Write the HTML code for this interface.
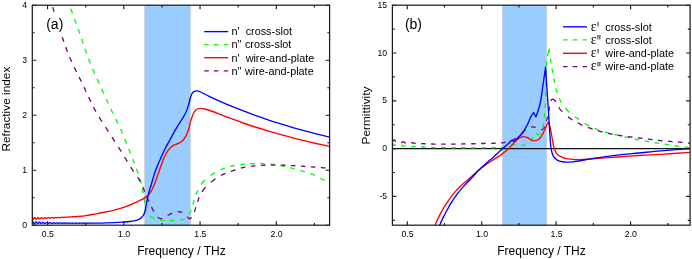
<!DOCTYPE html><html><head><meta charset="utf-8"><title>Refractive index and permittivity</title><style>html,body{margin:0;padding:0;background:#fff}svg{display:block;will-change:transform}text{font-family:"Liberation Sans",sans-serif;fill:#000}</style></head><body>
<svg width="692" height="259" viewBox="0 0 692 259">
<rect width="692" height="259" fill="#fff"/>
<defs><clipPath id="ca"><rect x="32.30" y="5.20" width="297.30" height="220.00"/></clipPath><clipPath id="cb"><rect x="392.40" y="5.20" width="297.70" height="220.00"/></clipPath></defs>
<rect x="144.7" y="5.20" width="45.7" height="220.00" fill="#99ccff" stroke="#c3cbd3" stroke-width="0.6"/>
<rect x="502.3" y="5.20" width="44.3" height="220.00" fill="#99ccff" stroke="#c3cbd3" stroke-width="0.6"/>
<line x1="392.40" x2="690.10" y1="148.7" y2="148.7" stroke="#111" stroke-width="1.2"/>
<path d="M68.00 0.00 L68.09 0.28 L68.24 0.76 L68.41 1.31 L68.54 1.74 L68.69 2.20 L68.83 2.67 L68.98 3.14 L69.12 3.60 L69.16 3.71 M70.81 8.86 L70.97 9.29 L71.18 9.87 L71.39 10.45 L71.60 11.03 L71.82 11.61 L72.03 12.18 L72.24 12.75 L72.44 13.32 L72.50 13.46 M74.48 18.83 L74.64 19.28 L74.85 19.86 L75.06 20.42 L75.27 20.98 L75.47 21.54 L75.68 22.11 L75.89 22.68 L76.10 23.25 L76.21 23.53 M78.18 28.95 L78.34 29.40 L78.56 30.00 L78.78 30.59 L78.99 31.17 L79.20 31.75 L79.40 32.33 L79.60 32.89 L79.80 33.44 M81.69 38.89 L81.84 39.33 L82.04 39.93 L82.24 40.52 L82.44 41.12 L82.63 41.71 L82.83 42.31 L83.03 42.90 L83.23 43.50 M85.00 48.84 L85.15 49.29 L85.35 49.88 L85.55 50.47 L85.75 51.06 L85.96 51.65 L86.16 52.24 L86.36 52.83 L86.57 53.42 M88.55 58.84 L88.72 59.27 L88.94 59.85 L89.17 60.43 L89.40 61.01 L89.63 61.59 L89.87 62.16 L90.10 62.74 L90.34 63.31 L90.40 63.46 M92.71 68.86 L92.89 69.28 L93.14 69.85 L93.40 70.41 L93.65 70.98 L93.90 71.54 L94.15 72.11 L94.41 72.67 L94.66 73.24 L94.79 73.52 M97.23 78.88 L97.43 79.30 L97.68 79.87 L97.94 80.44 L98.20 81.01 L98.46 81.57 L98.72 82.14 L98.97 82.71 L99.23 83.28 L99.30 83.43 M101.70 88.81 L101.90 89.26 L102.16 89.86 L102.41 90.41 L102.66 90.96 L102.90 91.52 L103.15 92.07 L103.40 92.63 L103.65 93.18 L103.77 93.46 M106.22 98.94 L106.43 99.39 L106.70 99.98 L106.96 100.58 L107.23 101.17 L107.50 101.76 L107.76 102.34 L108.02 102.92 L108.28 103.50 M110.72 108.82 L110.92 109.25 L111.18 109.81 L111.44 110.36 L111.71 110.94 L111.99 111.53 L112.26 112.11 L112.53 112.67 L112.80 113.23 L112.93 113.50 M115.64 118.94 L115.84 119.33 L116.11 119.86 L116.42 120.46 L116.72 121.06 L117.02 121.66 L117.32 122.25 L117.62 122.85 L117.89 123.40 L117.95 123.53 M120.50 128.94 L120.69 129.39 L120.96 129.98 L121.22 130.58 L121.48 131.17 L121.73 131.77 L121.98 132.34 L122.20 132.88 L122.43 133.41 M124.67 138.86 L124.84 139.28 L125.06 139.83 L125.28 140.38 L125.50 140.93 L125.73 141.49 L125.95 142.04 L126.17 142.60 L126.39 143.16 L126.50 143.44 M128.69 148.92 L128.86 149.35 L129.09 149.93 L129.33 150.53 L129.55 151.10 L129.77 151.64 L129.98 152.19 L130.20 152.74 L130.42 153.30 L130.48 153.44 M132.63 158.93 L132.79 159.35 L133.01 159.90 L133.22 160.46 L133.43 161.00 L133.64 161.54 L133.86 162.10 L134.08 162.68 L134.31 163.27 L134.42 163.55 M136.45 168.86 L136.60 169.26 L136.80 169.79 L137.01 170.34 L137.22 170.89 L137.41 171.40 L137.62 171.95 L137.83 172.50 L138.02 173.01 L138.21 173.50 M140.00 178.90 L140.10 179.28 L140.24 179.78 L140.37 180.28 L140.49 180.78 L140.61 181.28 L140.73 181.78 L140.84 182.28 L140.95 182.78 L141.05 183.28 L141.10 183.54 M142.17 188.87 L142.26 189.26 L142.37 189.78 L142.48 190.30 L142.59 190.82 L142.70 191.34 L142.82 191.87 L142.93 192.39 L143.04 192.92 L143.16 193.45 M144.27 198.85 L144.35 199.24 L144.45 199.76 L144.55 200.29 L144.64 200.83 L144.74 201.38 L144.83 201.94 L144.92 202.50 L145.01 203.06 L145.08 203.48 M146.00 208.86 L146.09 209.24 L146.20 209.70 L146.35 210.24 L146.41 210.49 M150.08 215.93 L150.51 216.34 L150.94 216.69 L151.39 217.03 L151.88 217.35 L152.42 217.66 L153.00 217.94 L153.50 218.16 L154.00 218.36 L154.51 218.55 L154.64 218.60 M160.05 220.00 L160.44 220.07 L160.96 220.15 L161.48 220.23 L162.00 220.30 L162.53 220.36 L163.07 220.41 L163.63 220.45 L164.20 220.49 L164.63 220.51 M169.99 220.52 L170.43 220.50 L171.02 220.49 L171.59 220.47 L172.15 220.45 L172.70 220.43 L173.24 220.41 L173.76 220.39 L174.28 220.37 L174.67 220.36 M180.06 220.01 L180.48 219.96 L181.01 219.90 L181.53 219.82 L182.01 219.75 L182.51 219.66 L183.07 219.54 L183.58 219.41 L184.03 219.28 L184.54 219.10 L184.68 219.04 M189.30 214.46 L189.47 214.11 L189.70 213.60 L189.93 213.06 L190.11 212.60 L190.29 212.11 L190.47 211.60 L190.66 211.06 L190.84 210.50 L191.03 209.92 M192.76 204.53 L192.89 204.14 L193.06 203.61 L193.23 203.06 L193.40 202.51 L193.56 201.95 L193.73 201.38 L193.90 200.81 L194.07 200.23 L194.15 199.93 M195.94 194.56 L196.12 194.12 L196.37 193.53 L196.63 192.95 L196.91 192.36 L197.19 191.77 L197.46 191.20 L197.71 190.70 L197.96 190.20 L198.09 189.94 M201.16 184.57 L201.45 184.14 L201.84 183.58 L202.23 183.02 L202.64 182.48 L203.06 181.96 L203.49 181.45 L203.92 180.96 L204.40 180.44 L204.98 179.86 M210.38 175.50 L210.79 175.21 L211.34 174.85 L211.90 174.49 L212.45 174.13 L213.00 173.78 L213.55 173.44 L214.10 173.10 L214.65 172.77 L214.93 172.61 M220.36 169.89 L220.81 169.70 L221.40 169.44 L221.99 169.20 L222.57 168.97 L223.14 168.74 L223.70 168.51 L224.26 168.30 L224.80 168.09 L224.94 168.04 M230.25 166.43 L230.67 166.34 L231.23 166.22 L231.79 166.10 L232.35 165.99 L232.91 165.88 L233.47 165.77 L234.04 165.66 L234.61 165.56 L234.90 165.50 M240.27 164.64 L240.70 164.58 L241.28 164.51 L241.87 164.44 L242.44 164.38 L242.93 164.33 L243.43 164.28 L243.94 164.23 L244.47 164.18 L244.87 164.14 M250.32 163.75 L250.70 163.73 L251.21 163.70 L251.73 163.67 L252.33 163.64 L252.91 163.61 L253.48 163.59 L254.03 163.56 L254.57 163.54 L254.96 163.53 M260.32 163.48 L260.75 163.49 L261.30 163.51 L261.77 163.53 L262.26 163.55 L262.79 163.58 L263.35 163.61 L263.93 163.63 L264.50 163.66 L264.87 163.68 M270.25 164.00 L270.68 164.03 L271.25 164.09 L271.83 164.14 L272.41 164.20 L272.99 164.27 L273.57 164.34 L274.15 164.42 L274.73 164.50 L274.88 164.53 M280.37 165.50 L280.76 165.58 L281.29 165.69 L281.82 165.80 L282.35 165.91 L282.87 166.02 L283.40 166.13 L283.93 166.25 L284.45 166.36 L284.97 166.48 M290.38 167.75 L290.76 167.85 L291.27 167.98 L291.78 168.11 L292.29 168.25 L292.81 168.38 L293.32 168.52 L293.83 168.65 L294.34 168.79 L294.85 168.93 M300.29 170.45 L300.70 170.57 L301.25 170.73 L301.80 170.89 L302.36 171.05 L302.92 171.22 L303.48 171.38 L304.03 171.55 L304.59 171.72 L304.87 171.80 M310.37 173.54 L310.74 173.67 L311.24 173.85 L311.77 174.04 L312.27 174.23 L312.82 174.43 L313.29 174.62 L313.71 174.80 L314.21 175.02 L314.70 175.27 L314.91 175.37 M320.38 178.22 L320.82 178.45 L321.36 178.74 L321.88 179.02 L322.40 179.30 L322.92 179.58 L323.44 179.86 L323.97 180.14 L324.48 180.42 L324.89 180.64" fill="none" stroke="#00ff00" stroke-width="1.35" stroke-linejoin="round" clip-path="url(#ca)"/>
<path d="M50.40 0.00 L50.50 0.28 L50.62 0.56 L50.78 1.02 L50.94 1.48 L51.03 1.77 M52.73 7.14 L52.85 7.55 L53.02 8.11 L53.19 8.67 L53.36 9.22 L53.53 9.78 L53.71 10.35 L53.89 10.94 L54.07 11.54 L54.11 11.69 M55.76 17.07 L55.89 17.51 L56.07 18.10 L56.25 18.68 L56.43 19.27 L56.62 19.87 L56.80 20.46 L56.98 21.05 L57.17 21.65 M58.88 27.08 L59.02 27.51 L59.20 28.08 L59.39 28.65 L59.59 29.25 L59.78 29.85 L59.98 30.43 L60.17 31.00 L60.36 31.57 L60.40 31.72 M62.23 37.10 L62.38 37.54 L62.58 38.14 L62.79 38.73 L62.99 39.32 L63.19 39.92 L63.40 40.51 L63.60 41.10 L63.81 41.69 M65.74 47.13 L65.90 47.57 L66.12 48.16 L66.34 48.74 L66.56 49.33 L66.78 49.92 L67.00 50.50 L67.22 51.09 L67.45 51.67 M69.63 57.11 L69.82 57.56 L70.06 58.15 L70.32 58.74 L70.57 59.33 L70.83 59.92 L71.09 60.51 L71.35 61.10 L71.62 61.69 M74.18 67.16 L74.40 67.60 L74.68 68.19 L74.97 68.78 L75.26 69.38 L75.55 69.97 L75.84 70.56 L76.14 71.15 L76.43 71.74 M79.08 77.06 L79.30 77.50 L79.60 78.09 L79.89 78.68 L80.19 79.27 L80.48 79.86 L80.77 80.45 L81.06 81.05 L81.35 81.64 M84.00 87.16 L84.20 87.58 L84.46 88.14 L84.73 88.70 L84.99 89.26 L85.26 89.83 L85.52 90.39 L85.78 90.96 L86.05 91.53 L86.11 91.67 M88.62 97.05 L88.82 97.47 L89.08 98.03 L89.34 98.59 L89.61 99.14 L89.87 99.70 L90.13 100.25 L90.39 100.80 L90.68 101.39 L90.82 101.69 M93.49 107.11 L93.72 107.55 L94.02 108.14 L94.32 108.72 L94.62 109.29 L94.92 109.86 L95.22 110.41 L95.52 110.95 L95.82 111.50 L95.90 111.65 M99.12 117.15 L99.39 117.57 L99.73 118.13 L100.08 118.69 L100.43 119.23 L100.77 119.78 L101.12 120.32 L101.47 120.86 L101.82 121.40 L101.99 121.67 M105.47 127.04 L105.75 127.47 L106.12 128.06 L106.49 128.65 L106.87 129.25 L107.24 129.83 L107.58 130.36 L107.92 130.90 L108.27 131.43 L108.44 131.70 M111.95 137.11 L112.22 137.52 L112.57 138.07 L112.93 138.62 L113.29 139.17 L113.65 139.72 L114.00 140.27 L114.36 140.82 L114.72 141.37 L114.90 141.65 M118.39 147.08 L118.66 147.50 L119.01 148.06 L119.37 148.63 L119.73 149.20 L120.09 149.79 L120.46 150.38 L120.82 150.96 L121.16 151.50 L121.24 151.64 M124.58 157.10 L124.84 157.53 L125.18 158.09 L125.52 158.65 L125.86 159.21 L126.20 159.77 L126.53 160.32 L126.87 160.87 L127.20 161.41 L127.36 161.68 M130.67 167.05 L130.92 167.46 L131.26 168.00 L131.63 168.57 L131.99 169.13 L132.33 169.66 L132.69 170.20 L133.06 170.76 L133.41 171.28 L133.69 171.68 M137.64 177.08 L137.91 177.48 L138.27 178.03 L138.62 178.60 L138.94 179.14 L139.22 179.63 L139.48 180.11 L139.80 180.71 L140.11 181.31 L140.33 181.75 M142.73 187.07 L142.89 187.45 L143.11 187.96 L143.34 188.47 L143.58 189.00 L143.81 189.53 L144.05 190.08 L144.29 190.63 L144.53 191.20 L144.71 191.63 M146.98 197.09 L147.15 197.50 L147.38 198.04 L147.61 198.57 L147.83 199.08 L148.05 199.58 L148.30 200.15 L148.56 200.73 L148.82 201.31 L149.01 201.73 M151.52 207.04 L151.70 207.40 L151.94 207.88 L152.18 208.36 L152.42 208.84 L152.66 209.32 L152.90 209.81 L153.14 210.29 L153.38 210.76 L153.62 211.23 L153.85 211.70 M157.64 217.09 L157.98 217.38 L158.44 217.72 L158.91 218.01 L159.38 218.25 L159.86 218.43 L160.33 218.57 L160.80 218.64 L161.27 218.67 L161.76 218.64 L162.27 218.56 M167.65 215.54 L168.02 215.31 L168.52 215.01 L169.03 214.73 L169.56 214.45 L170.10 214.16 L170.66 213.86 L171.23 213.56 L171.81 213.26 L172.25 213.04 M177.62 211.66 L177.97 211.67 L178.44 211.68 L178.92 211.72 L179.38 211.76 L179.85 211.82 L180.30 211.89 L180.85 211.99 L181.42 212.11 L181.95 212.24 L182.21 212.31 M187.44 216.62 L187.74 217.05 L188.14 217.61 L188.54 218.10 L188.94 218.48 L189.36 218.70 L189.80 218.70 L190.26 218.49 L190.75 218.10 L191.26 217.58 L191.51 217.26 M194.39 211.90 L194.52 211.51 L194.69 210.97 L194.86 210.41 L195.03 209.84 L195.20 209.26 L195.36 208.69 L195.50 208.21 L195.64 207.71 L195.78 207.21 M197.56 201.91 L197.70 201.47 L197.90 200.88 L198.07 200.37 L198.24 199.87 L198.41 199.37 L198.59 198.86 L198.77 198.35 L198.96 197.85 L199.15 197.34 L199.20 197.21 M201.87 191.90 L202.12 191.52 L202.47 191.02 L202.82 190.53 L203.18 190.04 L203.57 189.54 L204.05 188.95 L204.54 188.36 L205.04 187.79 L205.56 187.22 M210.82 182.30 L211.22 181.97 L211.78 181.53 L212.34 181.09 L212.91 180.65 L213.49 180.22 L214.08 179.79 L214.68 179.37 L215.23 178.98 L215.48 178.81 M220.85 175.48 L221.29 175.25 L221.87 174.94 L222.45 174.65 L223.03 174.37 L223.61 174.11 L224.19 173.85 L224.77 173.61 L225.35 173.37 L225.50 173.31 M230.86 171.40 L231.29 171.25 L231.88 171.05 L232.45 170.85 L233.04 170.65 L233.62 170.45 L234.20 170.25 L234.78 170.05 L235.36 169.85 L235.50 169.80 M240.87 168.13 L241.31 168.01 L241.89 167.86 L242.47 167.71 L243.04 167.57 L243.62 167.43 L244.20 167.30 L244.77 167.18 L245.34 167.07 L245.48 167.04 M250.93 166.25 L251.36 166.20 L251.93 166.14 L252.51 166.09 L253.10 166.03 L253.65 165.98 L254.15 165.94 L254.66 165.89 L255.18 165.85 L255.44 165.82 M260.91 165.44 L261.35 165.41 L261.94 165.38 L262.53 165.35 L263.13 165.32 L263.72 165.29 L264.32 165.27 L264.91 165.24 L265.51 165.22 M270.86 165.08 L271.28 165.07 L271.82 165.06 L272.37 165.06 L272.91 165.05 L273.45 165.05 L273.98 165.05 L274.52 165.05 L275.05 165.05 L275.45 165.05 M280.88 165.14 L281.30 165.15 L281.81 165.17 L282.34 165.18 L282.87 165.20 L283.41 165.21 L283.97 165.23 L284.54 165.25 L285.13 165.27 L285.43 165.28 M290.87 165.53 L291.29 165.55 L291.85 165.58 L292.41 165.61 L292.96 165.63 L293.51 165.66 L294.06 165.69 L294.60 165.72 L295.14 165.75 L295.40 165.76 M300.79 166.06 L301.24 166.09 L301.78 166.12 L302.30 166.16 L302.80 166.19 L303.30 166.22 L303.87 166.26 L304.42 166.30 L304.96 166.34 L305.49 166.38 M310.92 166.80 L311.34 166.83 L311.92 166.88 L312.46 166.92 L312.98 166.96 L313.51 167.00 L314.05 167.05 L314.59 167.09 L315.14 167.13 L315.41 167.15 M320.90 167.59 L321.32 167.63 L321.85 167.67 L322.40 167.71 L322.97 167.76 L323.50 167.80 L323.99 167.84 L324.53 167.88 L325.08 167.93 L325.47 167.96" fill="none" stroke="#800080" stroke-width="1.35" stroke-linejoin="round" clip-path="url(#ca)"/>
<path d="M32.30 219.05 L32.65 219.48 L33.00 219.49 L33.35 219.11 L33.70 218.48 L34.05 217.87 L34.40 217.49 L34.75 217.48 L35.10 217.82 L35.45 218.36 L35.80 218.88 L36.15 219.18 L36.50 219.16 L36.85 218.83 L37.20 218.35 L37.55 217.88 L37.90 217.62 L38.25 217.63 L38.60 217.91 L38.95 218.32 L39.30 218.70 L39.65 218.91 L40.00 218.87 L40.35 218.60 L40.70 218.22 L41.05 217.87 L41.40 217.68 L41.75 217.71 L42.10 217.93 L42.45 218.24 L42.80 218.53 L43.15 218.67 L43.50 218.62 L43.85 218.40 L44.20 218.10 L44.55 217.84 L44.90 217.70 L45.25 217.73 L45.60 217.90 L45.95 218.14 L46.30 218.35 L46.65 218.44 L47.00 218.39 L47.35 218.21 L47.70 217.97 L48.05 217.77 L48.40 217.67 L48.75 217.71 L49.10 217.84 L49.45 218.02 L49.80 218.17 L50.15 218.23 L50.50 218.17 L50.85 218.02 L51.20 217.84 L51.55 217.69 L51.90 217.62 L52.25 217.64 L52.60 217.75 L52.95 217.88 L53.30 217.99 L53.65 218.02 L54.00 217.96 L54.35 217.84 L54.70 217.70 L55.05 217.58 L55.40 217.53 L55.75 217.55 L56.10 217.63 L56.45 217.73 L56.80 217.80 L57.15 217.81 L57.50 217.76 L57.85 217.66 L58.20 217.54 L58.55 217.45 L58.90 217.41 L59.25 217.43 L59.60 217.48 L59.95 217.55 L60.30 217.60 L60.65 217.60 L61.00 217.55 L61.35 217.47 L61.70 217.37 L62.05 217.30 L62.40 217.27 L62.75 217.28 L63.10 217.32 L63.45 217.37 L63.80 217.39 L64.15 217.39 L64.50 217.34 L64.85 217.27 L65.20 217.19 L65.55 217.13 L65.90 217.11 L66.25 217.11 L66.60 217.14 L66.95 217.17 L67.30 217.18 L67.65 217.17 L68.00 217.12 L68.35 217.06 L68.70 217.00 L69.05 216.95 L69.40 216.92 L69.75 216.92 L70.10 216.94 L70.45 216.95 L70.80 216.96 L71.15 216.94 L71.50 216.90 L71.85 216.84 L72.20 216.79 L72.55 216.74 L72.90 216.72 L73.25 216.72 L73.60 216.72 L73.95 216.73 L74.30 216.72 L74.65 216.70 L75.50 216.70 C77.25 216.52 82.63 216.07 86.00 215.60 C89.37 215.13 92.48 214.50 95.70 213.90 C98.92 213.30 102.08 212.68 105.30 212.00 C108.52 211.32 111.55 210.70 115.00 209.80 C118.45 208.90 122.80 207.70 126.00 206.60 C129.20 205.50 131.28 204.53 134.20 203.20 C137.12 201.87 141.18 199.92 143.50 198.60 C145.82 197.28 146.82 196.53 148.10 195.30 C149.38 194.07 150.30 192.67 151.20 191.20 C152.10 189.73 152.78 188.12 153.50 186.50 C154.22 184.88 154.87 183.15 155.50 181.50 C156.13 179.85 156.62 178.52 157.30 176.60 C157.98 174.68 158.78 172.37 159.60 170.00 C160.42 167.63 161.33 164.68 162.20 162.40 C163.07 160.12 163.78 158.33 164.80 156.30 C165.82 154.27 167.00 151.93 168.30 150.20 C169.60 148.47 171.02 147.00 172.60 145.90 C174.18 144.80 176.20 144.42 177.80 143.60 C179.40 142.78 180.88 142.22 182.20 141.00 C183.52 139.78 184.68 138.10 185.70 136.30 C186.72 134.50 187.53 132.52 188.30 130.20 C189.07 127.88 189.58 124.87 190.30 122.40 C191.02 119.93 191.83 117.28 192.60 115.40 C193.37 113.52 194.12 112.17 194.90 111.10 C195.68 110.03 196.38 109.47 197.30 109.00 C198.22 108.53 199.15 108.30 200.40 108.30 C201.65 108.30 202.77 108.47 204.80 109.00 C206.83 109.53 209.73 110.47 212.60 111.50 C215.47 112.53 218.77 113.95 222.00 115.20 C225.23 116.44 228.33 117.65 232.00 118.99 C235.67 120.34 240.00 121.89 244.00 123.26 C248.00 124.64 252.00 125.96 256.00 127.25 C260.00 128.53 264.00 129.76 268.00 130.96 C272.00 132.16 276.00 133.31 280.00 134.42 C284.00 135.54 288.00 136.61 292.00 137.65 C296.00 138.70 300.00 139.70 304.00 140.67 C308.00 141.64 311.73 142.51 316.00 143.48 C320.27 144.44 327.33 145.94 329.60 146.43" fill="none" stroke="#ff0000" stroke-width="1.35" stroke-linejoin="round" clip-path="url(#ca)"/>
<path d="M32.30 221.67 L32.65 221.49 L33.00 221.79 L33.35 222.42 L33.70 223.15 L34.05 223.69 L34.40 223.85 L34.75 223.59 L35.10 223.03 L35.45 222.41 L35.80 221.96 L36.15 221.85 L36.50 222.11 L36.85 222.63 L37.20 223.21 L37.55 223.61 L37.90 223.71 L38.25 223.48 L38.60 223.02 L38.95 222.53 L39.30 222.20 L39.65 222.14 L40.00 222.37 L40.35 222.79 L40.70 223.24 L41.05 223.54 L41.40 223.60 L41.75 223.40 L42.10 223.03 L42.45 222.64 L42.80 222.39 L43.15 222.36 L43.50 222.56 L43.85 222.91 L44.20 223.26 L44.55 223.49 L44.90 223.51 L45.25 223.33 L45.60 223.03 L45.95 222.73 L46.30 222.55 L46.65 222.54 L47.00 222.72 L47.35 222.99 L47.70 223.27 L48.05 223.44 L48.40 223.44 L48.75 223.29 L49.10 223.05 L49.45 222.81 L49.80 222.68 L50.15 222.69 L50.50 222.83 L50.85 223.06 L51.20 223.27 L51.55 223.39 L51.90 223.38 L52.25 223.26 L52.60 223.06 L52.95 222.88 L53.30 222.78 L53.65 222.80 L54.00 222.92 L54.35 223.10 L54.70 223.27 L55.05 223.36 L55.40 223.34 L55.75 223.23 L56.10 223.08 L56.45 222.94 L56.80 222.86 L57.15 222.89 L57.50 222.99 L57.85 223.13 L58.20 223.26 L58.55 223.33 L58.90 223.31 L59.25 223.22 L59.60 223.09 L59.95 222.98 L60.30 222.93 L60.65 222.96 L61.00 223.04 L61.35 223.16 L61.70 223.26 L62.05 223.30 L62.40 223.28 L62.75 223.20 L63.10 223.11 L63.45 223.02 L63.80 222.99 L64.15 223.01 L64.50 223.08 L64.85 223.17 L65.20 223.25 L65.55 223.28 L65.90 223.26 L66.25 223.20 L66.60 223.12 L66.95 223.05 L67.30 223.03 L67.65 223.05 L68.00 223.11 L68.35 223.19 L68.70 223.24 L69.05 223.26 L69.40 223.24 L69.75 223.19 L70.10 223.13 L70.45 223.08 L70.80 223.07 L71.15 223.09 L71.50 223.14 L71.85 223.19 L72.20 223.24 L72.55 223.25 L72.90 223.23 L73.25 223.19 L73.60 223.14 L73.95 223.10 L74.30 223.09 L74.65 223.11 L75.00 223.15 L75.35 223.20 L75.70 223.23 L76.05 223.24 L76.40 223.22 L76.75 223.19 L77.10 223.15 L77.45 223.12 L77.80 223.12 L78.15 223.13 L78.50 223.17 L78.85 223.20 L79.20 223.23 L79.55 223.23 L79.90 223.22 L80.25 223.19 L80.60 223.16 L80.95 223.14 L81.30 223.13 L81.65 223.15 L82.00 223.18 L82.35 223.20 L82.70 223.22 L83.05 223.22 L83.40 223.21 L83.75 223.19 L84.10 223.16 L84.45 223.15 L84.80 223.15 L85.15 223.16 L85.50 223.18 L85.85 223.20 L86.20 223.22 L86.55 223.22 L86.90 223.21 L87.25 223.19 L87.60 223.17 L87.95 223.16 L88.30 223.16 L88.65 223.17 L89.00 223.19 L89.35 223.20 L89.70 223.21 L90.90 223.20 C93.48 223.15 101.25 223.07 106.40 222.90 C111.55 222.73 117.95 222.43 121.80 222.20 C125.65 221.97 126.92 221.85 129.50 221.50 C132.08 221.15 135.37 220.70 137.30 220.10 C139.23 219.50 140.07 218.73 141.10 217.90 C142.13 217.07 142.85 216.20 143.50 215.10 C144.15 214.00 144.55 212.97 145.00 211.30 C145.45 209.63 145.82 207.17 146.20 205.10 C146.58 203.03 146.93 200.70 147.30 198.90 C147.67 197.10 148.02 195.85 148.40 194.30 C148.78 192.75 149.13 191.15 149.60 189.60 C150.07 188.05 150.58 187.02 151.20 185.00 C151.82 182.98 152.55 180.00 153.30 177.50 C154.05 175.00 154.52 173.10 155.70 170.00 C156.88 166.90 158.88 162.35 160.40 158.90 C161.92 155.45 163.20 152.48 164.80 149.30 C166.40 146.12 168.27 142.98 170.00 139.80 C171.73 136.62 173.82 132.67 175.20 130.20 C176.58 127.73 177.25 126.70 178.30 125.00 C179.35 123.30 180.27 122.03 181.50 120.00 C182.73 117.97 184.57 115.15 185.70 112.80 C186.83 110.45 187.53 108.37 188.30 105.90 C189.07 103.43 189.67 100.10 190.30 98.00 C190.93 95.90 191.43 94.42 192.10 93.30 C192.77 92.18 193.48 91.70 194.30 91.30 C195.12 90.90 195.98 90.78 197.00 90.90 C198.02 91.02 198.38 91.10 200.40 92.00 C202.42 92.90 205.83 94.75 209.10 96.30 C212.37 97.85 216.18 99.60 220.00 101.28 C223.82 102.97 228.00 104.75 232.00 106.40 C236.00 108.05 240.00 109.64 244.00 111.18 C248.00 112.72 252.00 114.20 256.00 115.64 C260.00 117.07 264.00 118.45 268.00 119.79 C272.00 121.13 276.00 122.42 280.00 123.67 C284.00 124.92 288.00 126.12 292.00 127.29 C296.00 128.45 300.00 129.57 304.00 130.66 C308.00 131.75 311.73 132.73 316.00 133.81 C320.27 134.89 327.33 136.57 329.60 137.12" fill="none" stroke="#0000ff" stroke-width="1.35" stroke-linejoin="round" clip-path="url(#ca)"/>
<path d="M392.40 143.07 L392.70 143.58 L393.15 144.46 L393.60 145.24 L394.00 145.61 L394.40 145.66 L394.90 145.28 L395.30 144.78 L395.70 144.28 L395.80 144.19 M401.20 144.85 L401.50 145.00 L401.90 145.33 L402.40 145.83 L402.80 146.17 L403.20 146.39 L403.65 146.39 L404.10 146.21 L404.50 145.95 L404.90 145.69 L405.40 145.50 L405.80 145.51 M411.15 146.26 L411.50 146.44 L411.90 146.63 L412.30 146.76 L412.80 146.79 L413.24 146.51 L413.77 146.53 L414.31 146.56 L414.86 146.59 L415.39 146.62 L415.82 146.64 M421.21 146.91 L421.64 146.94 L422.21 146.96 L422.77 146.99 L423.32 147.02 L423.86 147.04 L424.40 147.07 L425.00 147.10 L425.53 147.13 L425.79 147.14 M431.17 147.50 L431.60 147.51 L432.17 147.53 L432.77 147.54 L433.36 147.56 L433.93 147.56 L434.49 147.57 L435.05 147.58 L435.61 147.59 L435.74 147.59 M441.17 147.65 L441.61 147.65 L442.19 147.66 L442.77 147.66 L443.35 147.67 L443.95 147.67 L444.55 147.68 L445.15 147.68 L445.75 147.69 M451.26 147.73 L451.70 147.73 L452.28 147.73 L452.86 147.74 L453.43 147.74 L454.00 147.74 L454.58 147.75 L455.15 147.75 L455.73 147.75 M461.15 147.78 L461.59 147.78 L462.17 147.78 L462.76 147.79 L463.34 147.79 L463.92 147.79 L464.51 147.79 L465.09 147.79 L465.67 147.80 L465.82 147.80 M471.24 147.81 L471.67 147.81 L472.25 147.81 L472.84 147.81 L473.44 147.81 L474.04 147.82 L474.64 147.82 L475.23 147.82 L475.81 147.82 M481.27 147.81 L481.71 147.80 L482.30 147.80 L482.88 147.80 L483.44 147.80 L484.01 147.79 L484.57 147.79 L485.13 147.79 L485.68 147.78 L485.82 147.78 M491.27 147.75 L491.70 147.74 L492.28 147.73 L492.81 147.73 L493.35 147.72 L493.90 147.71 L494.46 147.70 L495.05 147.68 L495.65 147.66 L495.79 147.66 M501.26 147.29 L501.70 147.23 L502.29 147.16 L502.87 147.08 L503.42 146.97 L503.94 146.86 L504.45 146.75 L505.02 146.59 L505.57 146.43 L505.83 146.34 M511.15 144.36 L511.50 144.30 L511.95 144.25 L512.52 144.22 L513.04 144.22 L513.53 144.26 L513.99 144.33 L514.42 144.42 L514.84 144.52 L515.25 144.63 L515.65 144.74 L515.75 144.76 M521.17 145.42 L521.48 145.42 L521.90 145.41 L522.31 145.37 L522.74 145.33 L523.17 145.27 L523.60 145.21 L524.04 145.13 L524.47 145.04 L524.90 144.95 L525.32 144.84 L525.73 144.72 L525.83 144.69 M531.07 141.60 L531.25 141.25 L531.46 140.81 L531.64 140.34 L531.81 139.85 L531.98 139.35 L532.14 138.84 L532.30 138.33 L532.47 137.84 L532.64 137.36 L532.77 137.02 M536.29 132.89 L536.53 133.14 L536.84 133.52 L537.16 133.90 L537.47 134.25 L537.77 134.50 L538.08 134.61 L538.38 134.64 L538.68 134.61 L539.20 134.45 L539.77 134.10 L540.30 133.60 L540.54 133.29 L540.60 133.20 M542.72 127.78 L542.83 127.41 L542.97 126.92 L543.10 126.43 L543.23 125.95 L543.36 125.48 L543.47 125.03 L543.57 124.60 L543.70 124.08 L543.82 123.58 L543.91 123.14 M544.48 117.75 L544.51 117.36 L544.53 116.82 L544.56 116.27 L544.59 115.71 L544.62 115.13 L544.65 114.53 L544.68 113.96 L544.70 113.47 L544.72 113.23 M545.05 107.79 L545.07 107.38 L545.11 106.78 L545.14 106.25 L545.17 105.67 L545.20 105.10 L545.23 104.54 L545.25 104.01 L545.27 103.47 L545.28 103.20 M545.51 96.20 L545.52 95.77 L545.54 95.19 L545.55 94.61 L545.57 94.03 L545.58 93.44 L545.60 92.86 L545.61 92.27 L545.63 91.69 M545.76 86.19 L545.77 85.75 L545.78 85.17 L545.80 84.58 L545.81 83.98 L545.83 83.39 L545.84 82.80 L545.85 82.21 L545.87 81.62 M546.00 76.20 L546.01 75.75 L546.03 75.17 L546.04 74.61 L546.06 74.04 L546.07 73.48 L546.09 72.91 L546.10 72.31 L546.12 71.71 L546.12 71.56 M546.29 66.28 L546.31 65.86 L546.33 65.28 L546.36 64.72 L546.38 64.18 L546.41 63.65 L546.44 63.13 L546.48 62.64 L546.52 62.16 L546.57 61.68 M547.60 56.07 L547.66 55.73 L547.75 55.28 L547.83 54.83 L547.92 54.39 L548.03 53.92 L548.14 53.43 L548.26 52.93 L548.38 52.43 L548.51 51.92 L548.64 51.44 L548.76 50.97 L548.88 50.53 L548.99 50.09 L549.13 49.59 L549.22 49.45 L549.27 49.82 L549.33 50.29 L549.41 50.83 L549.49 51.42 L549.54 51.82 L549.59 52.23 M549.61 52.33 L549.62 52.43 M550.29 58.56 L550.35 58.91 L550.43 59.39 L550.52 59.89 L550.62 60.39 L550.72 60.91 L550.82 61.42 L550.92 61.94 L551.02 62.46 L551.11 62.98 L551.14 63.11 M552.02 68.43 L552.08 68.81 L552.19 69.37 L552.28 69.87 L552.38 70.43 L552.48 70.97 L552.57 71.50 L552.68 72.08 L552.78 72.64 L552.83 72.90 M553.83 78.36 L553.91 78.76 L554.01 79.30 L554.12 79.86 L554.23 80.46 L554.34 81.05 L554.46 81.63 L554.57 82.19 L554.68 82.75 L554.71 82.88 M555.93 88.28 L556.04 88.70 L556.18 89.23 L556.32 89.75 L556.47 90.25 L556.61 90.74 L556.76 91.22 L556.91 91.71 L557.07 92.20 L557.24 92.69 M559.26 98.11 L559.44 98.53 L559.68 99.10 L559.92 99.65 L560.17 100.21 L560.43 100.75 L560.69 101.28 L560.95 101.80 L561.22 102.31 L561.43 102.68 M565.26 107.93 L565.58 108.32 L566.00 108.81 L566.40 109.27 L566.79 109.71 L567.27 110.26 L567.75 110.79 L568.20 111.26 L568.65 111.71 L569.12 112.15 L569.37 112.37 M574.70 116.61 L575.05 116.85 L575.53 117.20 L576.05 117.55 L576.59 117.92 L577.16 118.30 L577.73 118.68 L578.23 119.02 L578.75 119.37 L579.16 119.65 M584.63 123.25 L585.05 123.51 L585.61 123.85 L586.18 124.20 L586.75 124.53 L587.32 124.86 L587.90 125.19 L588.47 125.51 L589.05 125.81 L589.19 125.89 M594.49 128.33 L594.88 128.49 L595.40 128.70 L595.93 128.91 L596.46 129.11 L596.99 129.32 L597.52 129.52 L598.06 129.72 L598.60 129.91 L599.14 130.11 M604.62 131.92 L605.06 132.06 L605.64 132.23 L606.23 132.41 L606.83 132.58 L607.41 132.75 L607.94 132.89 L608.48 133.04 L609.01 133.18 L609.15 133.22 M614.55 134.54 L614.97 134.64 L615.53 134.76 L616.09 134.89 L616.66 135.02 L617.22 135.15 L617.78 135.27 L618.35 135.40 L618.91 135.53 L619.19 135.59 M624.58 136.80 L624.99 136.90 L625.54 137.02 L626.09 137.14 L626.63 137.26 L627.18 137.38 L627.73 137.50 L628.27 137.62 L628.82 137.74 L629.09 137.80 M634.55 138.95 L634.96 139.04 L635.51 139.15 L636.06 139.26 L636.60 139.37 L637.15 139.48 L637.70 139.59 L638.25 139.70 L638.79 139.81 L639.20 139.89 M644.56 140.91 L644.97 140.98 L645.52 141.08 L646.07 141.18 L646.62 141.28 L647.17 141.38 L647.72 141.48 L648.27 141.58 L648.82 141.68 L649.10 141.72 M654.60 142.66 L655.02 142.73 L655.57 142.82 L656.12 142.91 L656.67 143.00 L657.21 143.09 L657.76 143.18 L658.31 143.27 L658.86 143.35 L659.14 143.40 M664.59 144.20 L665.01 144.26 L665.57 144.34 L666.13 144.42 L666.69 144.50 L667.25 144.58 L667.80 144.65 L668.36 144.73 L668.91 144.81 L669.18 144.84 M674.53 145.58 L674.96 145.64 L675.55 145.72 L676.13 145.80 L676.72 145.88 L677.32 145.97 L677.87 146.04 L678.41 146.12 L678.94 146.19 L679.21 146.23 M684.55 146.95 L684.97 147.01 L685.52 147.08 L686.09 147.16 L686.69 147.24 L687.24 147.31 L687.78 147.39 L688.29 147.46 L688.85 147.53 L689.11 147.57" fill="none" stroke="#00ff00" stroke-width="1.35" stroke-linejoin="round" clip-path="url(#cb)"/>
<path d="M392.40 141.52 L392.70 141.18 L393.15 140.55 L393.60 140.00 L394.00 139.81 L394.40 139.92 L394.90 140.47 L395.30 141.11 L395.70 141.74 L395.80 141.87 M401.20 142.84 L401.50 142.77 L401.90 142.53 L402.40 142.13 L402.80 141.86 L403.20 141.72 L403.65 141.81 L404.10 142.08 L404.50 142.43 L404.90 142.78 L405.40 143.07 L405.80 143.13 M411.15 143.11 L411.50 142.95 L411.90 142.77 L412.30 142.68 L412.80 142.69 L413.23 143.11 L413.77 143.15 L414.23 143.18 L414.74 143.22 L415.27 143.26 L415.73 143.29 M421.15 143.61 L421.59 143.63 L422.12 143.65 L422.64 143.67 L423.17 143.70 L423.71 143.72 L424.26 143.75 L424.83 143.77 L425.41 143.80 L425.71 143.81 M431.09 144.00 L431.49 144.01 L432.03 144.02 L432.57 144.04 L433.12 144.05 L433.68 144.06 L434.25 144.07 L434.83 144.08 L435.41 144.09 L435.71 144.09 M441.11 144.13 L441.52 144.13 L442.09 144.13 L442.66 144.13 L443.23 144.13 L443.81 144.13 L444.39 144.12 L444.98 144.12 L445.57 144.12 L445.71 144.12 M451.08 144.09 L451.50 144.08 L452.05 144.08 L452.60 144.07 L453.16 144.07 L453.71 144.06 L454.26 144.06 L454.81 144.05 L455.36 144.05 L455.63 144.04 M461.15 143.98 L461.59 143.97 L462.18 143.96 L462.77 143.95 L463.37 143.94 L463.96 143.93 L464.56 143.92 L465.15 143.91 L465.75 143.90 M471.14 143.78 L471.58 143.77 L472.18 143.76 L472.77 143.75 L473.36 143.73 L473.95 143.72 L474.53 143.71 L475.11 143.69 L475.69 143.68 M481.14 143.54 L481.57 143.53 L482.16 143.51 L482.74 143.50 L483.32 143.48 L483.90 143.47 L484.48 143.45 L485.06 143.44 L485.63 143.43 M491.13 143.32 L491.54 143.31 L492.07 143.30 L492.61 143.29 L493.19 143.28 L493.78 143.26 L494.35 143.25 L494.93 143.23 L495.49 143.21 L495.63 143.21 M501.10 142.90 L501.51 142.86 L502.05 142.81 L502.56 142.75 L503.11 142.68 L503.65 142.61 L504.17 142.53 L504.65 142.46 L505.22 142.35 L505.63 142.27 M511.10 140.60 L511.46 140.46 L511.93 140.26 L512.39 140.05 L512.85 139.84 L513.45 139.55 L514.03 139.26 L514.60 138.95 L515.16 138.63 L515.70 138.32 M521.15 133.89 L521.58 133.49 L522.14 132.98 L522.68 132.48 L523.20 131.99 L523.70 131.51 L524.18 131.05 L524.66 130.60 L525.14 130.18 L525.63 129.78 L525.75 129.69 M531.12 127.04 L531.50 126.98 L532.00 126.94 L532.50 126.92 L533.00 126.92 L533.50 126.95 L534.00 127.00 L534.50 127.08 L535.01 127.19 L535.52 127.33 L535.65 127.37 M541.11 129.57 L541.40 129.60 L541.77 129.58 L542.12 129.53 L542.45 129.44 L542.77 129.30 L543.14 129.05 L543.58 128.62 L543.86 128.23 L544.14 127.74 L544.37 127.24 L544.54 126.79 L544.63 126.54 M546.31 121.13 L546.42 120.83 L546.62 120.29 L546.84 119.71 L547.05 119.12 L547.21 118.68 L547.34 118.26 L547.48 117.82 L547.61 117.37 L547.73 116.87 L547.82 116.49 M548.80 111.17 L548.86 110.82 L548.94 110.35 L549.02 109.88 L549.10 109.39 L549.19 108.88 L549.27 108.35 L549.35 107.81 L549.43 107.26 L549.51 106.71 L549.53 106.57 M550.73 101.08 L550.91 100.69 L551.15 100.24 L551.40 99.87 L551.88 99.42 L552.26 99.25 L552.58 99.20 L552.93 99.22 L553.29 99.33 L553.67 99.52 L554.07 99.78 L554.48 100.13 L554.91 100.56 L555.36 101.07 L555.78 101.61 L555.94 101.83 M558.89 107.31 L559.09 107.67 L559.41 108.23 L559.74 108.76 L560.05 109.21 L560.43 109.70 L560.79 110.12 L561.13 110.46 L561.47 110.75 L561.84 111.05 L562.26 111.38 L562.50 111.58 M567.98 116.69 L568.33 116.99 L568.81 117.39 L569.28 117.77 L569.75 118.14 L570.22 118.48 L570.69 118.82 L571.18 119.14 L571.67 119.46 L572.17 119.77 L572.55 120.00 M577.86 122.87 L578.25 123.08 L578.82 123.39 L579.32 123.68 L579.78 123.94 L580.22 124.20 L580.66 124.45 L581.12 124.69 L581.61 124.95 L582.16 125.21 L582.51 125.36 M587.89 127.41 L588.32 127.56 L588.89 127.76 L589.42 127.95 L589.96 128.13 L590.51 128.32 L591.07 128.51 L591.64 128.71 L592.21 128.90 L592.51 129.00 M597.92 130.73 L598.35 130.87 L598.95 131.04 L599.54 131.22 L600.13 131.39 L600.72 131.56 L601.29 131.72 L601.86 131.87 L602.42 132.02 L602.56 132.06 M607.98 133.36 L608.39 133.45 L608.93 133.56 L609.46 133.67 L610.00 133.78 L610.54 133.89 L611.08 134.00 L611.62 134.10 L612.16 134.20 L612.57 134.28 M617.99 135.23 L618.42 135.30 L618.99 135.39 L619.57 135.48 L620.15 135.58 L620.74 135.67 L621.34 135.76 L621.88 135.84 L622.42 135.92 L622.55 135.94 M627.90 136.64 L628.32 136.70 L628.88 136.76 L629.44 136.83 L630.00 136.90 L630.57 136.96 L631.13 137.03 L631.70 137.09 L632.26 137.16 L632.55 137.19 M637.92 137.81 L638.34 137.86 L638.90 137.93 L639.46 138.00 L640.02 138.07 L640.58 138.14 L641.14 138.21 L641.69 138.28 L642.25 138.35 L642.53 138.38 M647.97 139.10 L648.39 139.15 L648.95 139.22 L649.51 139.30 L650.06 139.37 L650.62 139.44 L651.18 139.51 L651.74 139.59 L652.30 139.66 L652.58 139.69 M657.89 140.33 L658.31 140.38 L658.86 140.44 L659.42 140.50 L659.98 140.56 L660.54 140.61 L661.11 140.67 L661.68 140.73 L662.26 140.78 L662.55 140.81 M667.99 141.26 L668.40 141.29 L668.94 141.33 L669.49 141.37 L670.06 141.42 L670.66 141.46 L671.25 141.50 L671.84 141.55 L672.43 141.59 L672.58 141.60 M677.94 141.99 L678.35 142.02 L678.94 142.07 L679.53 142.12 L680.09 142.16 L680.63 142.21 L681.15 142.26 L681.69 142.31 L682.27 142.36 L682.54 142.39 M687.91 142.95 L688.28 142.99 L688.76 143.05 L689.30 143.11 L689.78 143.17 L690.10 143.20" fill="none" stroke="#800080" stroke-width="1.35" stroke-linejoin="round" clip-path="url(#cb)"/>
<path d="M433.00 230.28 C433.40 229.30 434.57 226.35 435.40 224.42 C436.23 222.48 437.07 220.61 438.00 218.66 C438.93 216.70 440.00 214.58 441.00 212.69 C442.00 210.81 443.00 209.05 444.00 207.36 C445.00 205.68 446.00 204.09 447.00 202.58 C448.00 201.07 449.00 199.65 450.00 198.28 C451.00 196.92 452.00 195.64 453.00 194.41 C454.00 193.18 455.00 192.02 456.00 190.91 C457.00 189.80 458.00 188.75 459.00 187.74 C460.00 186.73 461.00 185.78 462.00 184.86 C463.00 183.94 464.00 183.07 465.00 182.24 C466.00 181.40 465.80 181.80 468.00 179.85 C470.20 177.89 475.22 173.04 478.20 170.50 C481.18 167.96 483.33 166.42 485.90 164.60 C488.47 162.78 491.03 161.27 493.60 159.60 C496.17 157.93 498.87 156.37 501.30 154.60 C503.73 152.83 506.27 150.77 508.20 149.00 C510.13 147.23 511.50 145.47 512.90 144.00 C514.30 142.53 515.42 141.25 516.60 140.20 C517.78 139.15 518.87 138.30 520.00 137.70 C521.13 137.10 522.17 136.62 523.40 136.60 C524.63 136.58 526.05 137.03 527.40 137.60 C528.75 138.17 530.25 139.47 531.50 140.00 C532.75 140.53 533.78 140.83 534.90 140.80 C536.02 140.77 537.08 140.62 538.20 139.80 C539.32 138.98 540.58 137.40 541.60 135.90 C542.62 134.40 543.40 132.67 544.30 130.80 C545.20 128.93 546.33 126.17 547.00 124.70 C547.67 123.23 548.08 122.45 548.30 122.00 L548.30 122.00 C548.53 122.57 549.12 123.03 549.70 125.40 C550.28 127.77 551.12 132.60 551.80 136.20 C552.48 139.80 553.03 144.15 553.80 147.00 C554.57 149.85 555.20 151.68 556.40 153.30 C557.60 154.92 559.33 155.80 561.00 156.70 C562.67 157.60 563.30 158.22 566.40 158.70 C569.50 159.18 574.83 159.60 579.60 159.60 C584.37 159.60 588.78 159.13 595.00 158.70 C601.22 158.27 609.58 157.53 616.90 157.00 C624.22 156.47 631.57 155.95 638.90 155.50 C646.23 155.05 652.37 154.82 660.90 154.30 C669.43 153.78 685.23 152.72 690.10 152.40" fill="none" stroke="#ff0000" stroke-width="1.35" stroke-linejoin="round" clip-path="url(#cb)"/>
<path d="M437.50 230.39 C437.92 229.40 439.08 226.51 440.00 224.42 C440.92 222.33 442.00 219.96 443.00 217.88 C444.00 215.81 445.00 213.84 446.00 211.96 C447.00 210.07 448.00 208.28 449.00 206.57 C450.00 204.85 451.00 203.23 452.00 201.66 C453.00 200.10 454.00 198.61 455.00 197.18 C456.00 195.75 457.00 194.39 458.00 193.07 C459.00 191.76 460.00 190.51 461.00 189.31 C462.00 188.11 463.00 186.96 464.00 185.85 C465.00 184.74 466.00 183.69 467.00 182.66 C468.00 181.64 468.13 181.70 470.00 179.72 C471.87 177.75 475.55 173.52 478.20 170.80 C480.85 168.08 483.33 165.72 485.90 163.40 C488.47 161.08 491.20 159.00 493.60 156.90 C496.00 154.80 498.73 152.23 500.30 150.80 C501.87 149.37 501.55 149.62 503.00 148.30 C504.45 146.98 507.70 144.12 509.00 142.90 C510.30 141.68 510.32 141.40 510.80 141.00 C511.28 140.60 511.53 140.52 511.90 140.50 C512.27 140.48 512.67 140.75 513.00 140.90 C513.33 141.05 513.57 141.45 513.90 141.40 C514.23 141.35 514.43 141.13 515.00 140.60 C515.57 140.07 516.13 139.38 517.30 138.20 C518.47 137.02 520.42 135.57 522.00 133.50 C523.58 131.43 525.22 128.80 526.80 125.80 C528.38 122.80 530.38 117.67 531.50 115.50 C532.62 113.33 532.98 112.95 533.50 112.80 C534.02 112.65 534.20 113.92 534.60 114.60 C535.00 115.28 535.55 116.87 535.90 116.90 C536.25 116.93 536.42 115.58 536.70 114.80 C536.98 114.02 537.12 113.77 537.60 112.20 C538.08 110.63 539.05 107.43 539.60 105.40 C540.15 103.37 540.33 103.40 540.90 100.00 C541.47 96.60 542.22 90.48 543.00 85.00 C543.78 79.52 545.17 70.08 545.60 67.10 L545.60 67.10 C545.78 70.08 546.35 79.52 546.70 85.00 C547.05 90.48 547.42 95.70 547.70 100.00 C547.98 104.30 548.17 107.20 548.40 110.80 C548.63 114.40 548.85 117.57 549.10 121.60 C549.35 125.63 549.58 130.57 549.90 135.00 C550.22 139.43 550.45 144.72 551.00 148.20 C551.55 151.68 552.10 153.88 553.20 155.90 C554.30 157.92 555.77 159.28 557.60 160.30 C559.43 161.32 561.63 161.75 564.20 162.00 C566.77 162.25 567.87 162.45 573.00 161.80 C578.13 161.15 587.68 159.20 595.00 158.10 C602.32 157.00 609.58 156.05 616.90 155.20 C624.22 154.35 631.57 153.73 638.90 153.00 C646.23 152.27 652.37 151.53 660.90 150.80 C669.43 150.07 685.23 148.97 690.10 148.60" fill="none" stroke="#0000ff" stroke-width="1.35" stroke-linejoin="round" clip-path="url(#cb)"/>
<rect x="32.30" y="5.20" width="297.30" height="220.00" fill="none" stroke="#1c1c1c" stroke-width="1.25"/>
<rect x="392.40" y="5.20" width="297.70" height="220.00" fill="none" stroke="#1c1c1c" stroke-width="1.25"/>
<path d="M47.55 225.20 L47.55 221.20 M47.55 5.20 L47.55 9.20 M85.67 225.20 L85.67 222.90 M85.67 5.20 L85.67 7.50 M123.80 225.20 L123.80 221.20 M123.80 5.20 L123.80 9.20 M161.93 225.20 L161.93 222.90 M161.93 5.20 L161.93 7.50 M200.05 225.20 L200.05 221.20 M200.05 5.20 L200.05 9.20 M238.18 225.20 L238.18 222.90 M238.18 5.20 L238.18 7.50 M276.30 225.20 L276.30 221.20 M276.30 5.20 L276.30 9.20 M314.43 225.20 L314.43 222.90 M314.43 5.20 L314.43 7.50 M32.30 225.20 L36.30 225.20 M329.60 225.20 L325.60 225.20 M32.30 197.70 L34.60 197.70 M329.60 197.70 L327.30 197.70 M32.30 170.20 L36.30 170.20 M329.60 170.20 L325.60 170.20 M32.30 142.70 L34.60 142.70 M329.60 142.70 L327.30 142.70 M32.30 115.20 L36.30 115.20 M329.60 115.20 L325.60 115.20 M32.30 87.70 L34.60 87.70 M329.60 87.70 L327.30 87.70 M32.30 60.20 L36.30 60.20 M329.60 60.20 L325.60 60.20 M32.30 32.70 L34.60 32.70 M329.60 32.70 L327.30 32.70 M32.30 5.20 L36.30 5.20 M329.60 5.20 L325.60 5.20 M407.28 225.20 L407.28 221.20 M407.28 5.20 L407.28 9.20 M444.50 225.20 L444.50 222.90 M444.50 5.20 L444.50 7.50 M481.71 225.20 L481.71 221.20 M481.71 5.20 L481.71 9.20 M518.92 225.20 L518.92 222.90 M518.92 5.20 L518.92 7.50 M556.13 225.20 L556.13 221.20 M556.13 5.20 L556.13 9.20 M593.35 225.20 L593.35 222.90 M593.35 5.20 L593.35 7.50 M630.56 225.20 L630.56 221.20 M630.56 5.20 L630.56 9.20 M667.77 225.20 L667.77 222.90 M667.77 5.20 L667.77 7.50 M392.40 220.30 L394.70 220.30 M690.10 220.30 L687.80 220.30 M392.40 196.40 L396.40 196.40 M690.10 196.40 L686.10 196.40 M392.40 172.50 L394.70 172.50 M690.10 172.50 L687.80 172.50 M392.40 148.60 L396.40 148.60 M690.10 148.60 L686.10 148.60 M392.40 124.70 L394.70 124.70 M690.10 124.70 L687.80 124.70 M392.40 100.80 L396.40 100.80 M690.10 100.80 L686.10 100.80 M392.40 76.90 L394.70 76.90 M690.10 76.90 L687.80 76.90 M392.40 53.00 L396.40 53.00 M690.10 53.00 L686.10 53.00 M392.40 29.10 L394.70 29.10 M690.10 29.10 L687.80 29.10 M392.40 5.20 L396.40 5.20 M690.10 5.20 L686.10 5.20" stroke="#1c1c1c" stroke-width="1.15" fill="none"/>
<text x="47.85" y="237.1" font-size="8.70" text-anchor="middle">0.5</text>
<text x="407.58" y="237.1" font-size="8.70" text-anchor="middle">0.5</text>
<text x="124.10" y="237.1" font-size="8.70" text-anchor="middle">1.0</text>
<text x="482.01" y="237.1" font-size="8.70" text-anchor="middle">1.0</text>
<text x="200.35" y="237.1" font-size="8.70" text-anchor="middle">1.5</text>
<text x="556.43" y="237.1" font-size="8.70" text-anchor="middle">1.5</text>
<text x="276.60" y="237.1" font-size="8.70" text-anchor="middle">2.0</text>
<text x="630.86" y="237.1" font-size="8.70" text-anchor="middle">2.0</text>
<text x="27.2" y="227.90" font-size="8.70" text-anchor="end">0</text>
<text x="27.2" y="172.90" font-size="8.70" text-anchor="end">1</text>
<text x="27.2" y="117.90" font-size="8.70" text-anchor="end">2</text>
<text x="27.2" y="62.90" font-size="8.70" text-anchor="end">3</text>
<text x="27.2" y="7.90" font-size="8.70" text-anchor="end">4</text>
<text x="387.2" y="199.00" font-size="8.70" text-anchor="end">-5</text>
<text x="387.2" y="151.20" font-size="8.70" text-anchor="end">0</text>
<text x="387.2" y="103.40" font-size="8.70" text-anchor="end">5</text>
<text x="387.2" y="55.60" font-size="8.70" text-anchor="end">10</text>
<text x="387.2" y="7.80" font-size="8.70" text-anchor="end">15</text>
<text x="181.4" y="255.1" font-size="12.00" text-anchor="middle">Frequency / THz</text>
<text x="541.5" y="255.1" font-size="12.00" text-anchor="middle">Frequency / THz</text>
<text transform="translate(10.3,151.5) rotate(-90)" font-size="11.83">Refractive index</text>
<text transform="translate(369.6,144.4) rotate(-90)" font-size="11.83">Permittivity</text>
<rect x="44.5" y="15.5" width="20" height="19" fill="#fff"/>
<text x="46.2" y="29" font-size="14">(a)</text>
<rect x="404" y="15.5" width="20" height="19" fill="#fff"/>
<text x="404.9" y="29.0" font-size="14">(b)</text>
<line x1="204.20" x2="228.20" y1="31.60" y2="31.60" stroke="#0000ff" stroke-width="1.35"/>
<text x="231.50" y="35.40" font-size="10.85" xml:space="preserve">n'  cross-slot</text>
<path d="M204.20 44.60 L204.65 44.60 L205.24 44.60 L205.84 44.60 L206.44 44.60 L207.03 44.60 L207.63 44.60 L208.22 44.60 L208.82 44.60 M213.89 44.60 L214.34 44.60 L214.93 44.60 L215.53 44.60 L216.13 44.60 L216.72 44.60 L217.32 44.60 L217.91 44.60 L218.51 44.60 M223.73 44.60 L224.18 44.60 L224.77 44.60 L225.37 44.60 L225.96 44.60 L226.56 44.60 L227.16 44.60 L227.75 44.60 L228.20 44.60" fill="none" stroke="#00ff00" stroke-width="1.35"/>
<text x="231.50" y="48.40" font-size="10.85" xml:space="preserve">n"<tspan dx="0.55"> cross-slot</tspan></text>
<line x1="204.20" x2="228.20" y1="57.70" y2="57.70" stroke="#ff0000" stroke-width="1.35"/>
<text x="231.50" y="61.50" font-size="10.85" xml:space="preserve">n'  wire-and-plate</text>
<path d="M204.20 70.80 L204.65 70.80 L205.24 70.80 L205.84 70.80 L206.44 70.80 L207.03 70.80 L207.63 70.80 L208.22 70.80 L208.82 70.80 M213.89 70.80 L214.34 70.80 L214.93 70.80 L215.53 70.80 L216.13 70.80 L216.72 70.80 L217.32 70.80 L217.91 70.80 L218.51 70.80 M223.73 70.80 L224.18 70.80 L224.77 70.80 L225.37 70.80 L225.96 70.80 L226.56 70.80 L227.16 70.80 L227.75 70.80 L228.20 70.80" fill="none" stroke="#800080" stroke-width="1.35"/>
<text x="231.50" y="74.60" font-size="10.85" xml:space="preserve">n"<tspan dx="0.55"> wire-and-plate</tspan></text>
<line x1="563.00" x2="587.00" y1="26.80" y2="26.80" stroke="#0000ff" stroke-width="1.35"/>
<text x="590.70" y="30.60" font-size="13.80" style="font-family:'Liberation Serif',serif">ε</text>
<text transform="translate(596.95,36.18) scale(1,1.88)" font-size="10.85">'</text>
<text x="605.3" y="30.60" font-size="10.85">cross-slot</text>
<path d="M563.00 39.90 L563.45 39.90 L564.04 39.90 L564.64 39.90 L565.24 39.90 L565.83 39.90 L566.43 39.90 L567.02 39.90 L567.62 39.90 M572.69 39.90 L573.14 39.90 L573.73 39.90 L574.33 39.90 L574.93 39.90 L575.52 39.90 L576.12 39.90 L576.71 39.90 L577.31 39.90 M582.53 39.90 L582.98 39.90 L583.57 39.90 L584.17 39.90 L584.76 39.90 L585.36 39.90 L585.96 39.90 L586.55 39.90 L587.00 39.90" fill="none" stroke="#00ff00" stroke-width="1.35"/>
<text x="590.70" y="43.70" font-size="13.80" style="font-family:'Liberation Serif',serif">ε</text>
<text transform="translate(596.95,49.28) scale(1,1.88)" font-size="10.85">"</text>
<text x="605.3" y="43.70" font-size="10.85">cross-slot</text>
<line x1="563.00" x2="587.00" y1="53.30" y2="53.30" stroke="#ff0000" stroke-width="1.35"/>
<text x="590.70" y="57.10" font-size="13.80" style="font-family:'Liberation Serif',serif">ε</text>
<text transform="translate(596.95,62.68) scale(1,1.88)" font-size="10.85">'</text>
<text x="605.3" y="57.10" font-size="10.85">wire-and-plate</text>
<path d="M563.00 66.60 L563.45 66.60 L564.04 66.60 L564.64 66.60 L565.24 66.60 L565.83 66.60 L566.43 66.60 L567.02 66.60 L567.62 66.60 M572.69 66.60 L573.14 66.60 L573.73 66.60 L574.33 66.60 L574.93 66.60 L575.52 66.60 L576.12 66.60 L576.71 66.60 L577.31 66.60 M582.53 66.60 L582.98 66.60 L583.57 66.60 L584.17 66.60 L584.76 66.60 L585.36 66.60 L585.96 66.60 L586.55 66.60 L587.00 66.60" fill="none" stroke="#800080" stroke-width="1.35"/>
<text x="590.70" y="70.40" font-size="13.80" style="font-family:'Liberation Serif',serif">ε</text>
<text transform="translate(596.95,75.98) scale(1,1.88)" font-size="10.85">"</text>
<text x="605.3" y="70.40" font-size="10.85">wire-and-plate</text>
</svg></body></html>
